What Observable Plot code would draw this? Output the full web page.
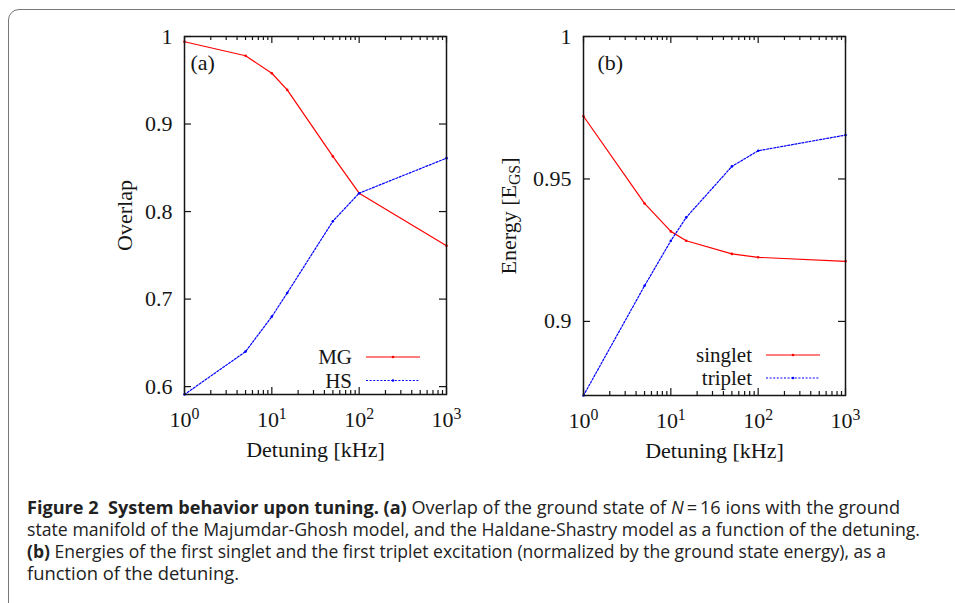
<!DOCTYPE html>
<html><head><meta charset="utf-8">
<script src="https://cdn.jsdelivr.net/npm/d3@7"></script>
<script src="https://cdn.jsdelivr.net/npm/@observablehq/plot@0.6"></script>
<style>
html,body{margin:0;padding:0;background:#fff}
body{width:955px;height:603px;overflow:hidden;position:relative}
#frame{position:absolute;left:8px;top:9px;width:1000px;height:700px;border:1.6px solid #777;border-top-left-radius:11px;box-sizing:border-box}
#a{position:absolute;left:0;top:0}
#b{position:absolute;left:400px;top:0}
#cap{position:absolute;left:27px;top:496px;font-family:"Open Sans","Noto Sans",sans-serif;font-size:18px;line-height:22px;color:#222}
#cap .ln{display:block;white-space:nowrap;height:22px}
#cap .ln span.t{display:inline-block;transform-origin:0 50%}
</style>
</head><body>
<div id="frame"></div>
<div id="a"></div>
<div id="b"></div>
<div id="cap">
<div class="ln"><span class="t" data-w="873"><b>Figure 2&nbsp; System behavior upon tuning.</b> <b>(a)</b> Overlap of the ground state of <i>N</i>&thinsp;=&thinsp;16 ions with the ground</span></div>
<div class="ln"><span class="t" data-w="893">state manifold of the Majumdar-Ghosh model, and the Haldane-Shastry model as a function of the detuning.</span></div>
<div class="ln"><span class="t" data-w="859"><b>(b)</b> Energies of the first singlet and the first triplet excitation (normalized by the ground state energy), as a</span></div>
<div class="ln"><span class="t" data-w="212">function of the detuning.</span></div>
</div>
<script>
// ---- data ----
const detuning = [1, 5, 10, 15, 50, 100, 1000];
const overlapMG = [0.994, 0.978, 0.958, 0.939, 0.863, 0.821, 0.761];
const overlapHS = [0.591, 0.640, 0.680, 0.707, 0.789, 0.821, 0.861];
const energySinglet = [0.972, 0.9414, 0.9316, 0.9283, 0.9237, 0.9225, 0.9211];
const energyTriplet = [0.874, 0.9125, 0.9283, 0.9365, 0.9544, 0.9599, 0.9654];
const xMajor = [1, 10, 100, 1000];
const xMinor = [2,3,4,5,6,7,8,9,20,30,40,50,60,70,80,90,200,300,400,500,600,700,800,900];
const yTicksA = [0.6, 0.7, 0.8, 0.9, 1];
const yLabelsA = ["0.6", "0.7", "0.8", "0.9", "1"];
const yTicksB = [0.9, 0.95, 1];
const yLabelsB = ["0.9", "0.95", "1"];
const seriesA = ["MG", "HS"];
const seriesB = ["singlet", "triplet"];
const colors = ["#ff0000", "#0000ff"];
const dashes = [null, "2,1.6"];

function panel(el, cfg) {
  const W = 470, H = 470;
  const ml = cfg.ml, mr = cfg.mr, mt = 36, mb = cfg.mb;
  const pw = W - ml - mr, ph = H - mt - mb;
  const rows = [];
  cfg.series.forEach((s, i) => cfg.values[i].forEach((v, j) => rows.push({s, i, x: detuning[j], y: v})));
  const ink = "#151515";
  const fs = 22;
  const marks = [
    Plot.tickX(xMajor, {x: d => d, insetTop: ph - 7, stroke: ink, strokeWidth: 1.2}),
    Plot.tickX(xMajor, {x: d => d, insetBottom: ph - 7, stroke: ink, strokeWidth: 1.2}),
    Plot.tickX(xMinor, {x: d => d, insetTop: ph - 4, stroke: ink, strokeWidth: 1.2}),
    Plot.tickX(xMinor, {x: d => d, insetBottom: ph - 4, stroke: ink, strokeWidth: 1.2}),
    Plot.tickY(cfg.yTicks, {y: d => d, insetRight: pw - 7, stroke: ink, strokeWidth: 1.2}),
    Plot.tickY(cfg.yTicks, {y: d => d, insetLeft: pw - 7, stroke: ink, strokeWidth: 1.2}),
  ];
  cfg.series.forEach((s, i) => {
    const data = rows.filter(r => r.i === i);
    marks.push(Plot.line(data, {x: "x", y: "y", stroke: colors[i], strokeWidth: 1.2, strokeDasharray: dashes[i]}));
    marks.push(Plot.dot(data, {x: "x", y: "y", r: 1.3, fill: colors[i], stroke: "none"}));
  });
  marks.push(
    Plot.frame({stroke: ink, strokeWidth: 1.5}),
    Plot.text(xMajor, {x: d => d, frameAnchor: "bottom", dy: 25, lineAnchor: "middle", fontSize: fs, text: d => `10^${Math.round(Math.log10(d))}`, fill: ink}),
    Plot.text(cfg.yTicks, {y: d => d, frameAnchor: "left", dx: -12, textAnchor: "end", lineAnchor: "middle", fontSize: fs, text: (d, k) => cfg.yLabels[k], fill: ink}),
    Plot.text([cfg.xlabel], {frameAnchor: "bottom", dy: 55, lineAnchor: "middle", textAnchor: "middle", fontSize: fs, fill: ink}),
    Plot.text([cfg.ylabel], {frameAnchor: "left", dx: cfg.ylabelDx, rotate: -90, textAnchor: "middle", lineAnchor: "middle", fontSize: fs, fill: ink}),
    Plot.text([cfg.tag], {frameAnchor: "top-left", dx: cfg.tagDx, dy: 26, textAnchor: "start", lineAnchor: "middle", fontSize: fs, fill: ink})
  );
  const svg = Plot.plot({
    width: W, height: H,
    marginLeft: ml, marginRight: mr, marginTop: mt, marginBottom: mb,
    x: {type: "log", domain: [1, 1000], axis: null},
    y: {domain: cfg.yDomain, axis: null},
    style: {fontFamily: "'Liberation Serif', 'Times New Roman', serif", fontSize: "22px", background: "transparent", overflow: "visible"},
    marks
  });
  // superscripts / subscripts as real text
  d3.select(svg).selectAll("text").each(function () {
    const t = this.textContent;
    let m = t.match(/^10\^(\d)$/);
    if (m) {
      this.textContent = "";
      d3.select(this).append("tspan").text("10");
      d3.select(this).append("tspan").attr("dy", "-0.45em").attr("font-size", "0.72em").text(m[1]);
      return;
    }
    m = t.match(/^(.*)_\{(.*)\}(.*)$/);
    if (m) {
      this.textContent = "";
      d3.select(this).append("tspan").text(m[1]);
      d3.select(this).append("tspan").attr("dy", "0.25em").attr("font-size", "0.72em").text(m[2]);
      d3.select(this).append("tspan").attr("dy", "-0.18em").text(m[3]);
    }
  });
  // key
  const g = d3.select(svg).append("g").attr("font-family", "'Liberation Serif', 'Times New Roman', serif").attr("font-size", 21).attr("fill", ink);
  cfg.series.forEach((s, i) => {
    const yy = cfg.keyY[i];
    g.append("text").attr("x", 352).attr("y", yy).attr("dy", "0.34em").attr("text-anchor", "end").text(s);
    g.append("line").attr("x1", 366).attr("x2", 420).attr("y1", yy).attr("y2", yy)
      .attr("stroke", colors[i]).attr("stroke-width", 1.2).attr("stroke-dasharray", dashes[i]);
    g.append("circle").attr("cx", 393).attr("cy", yy).attr("r", 1.3).attr("fill", colors[i]);
  });
  document.getElementById(el).appendChild(svg);
}

panel("a", {
  ml: 184, mr: 24, mb: 76,
  series: seriesA, values: [overlapMG, overlapHS],
  yDomain: [0.591, 1], yTicks: yTicksA, yLabels: yLabelsA,
  xlabel: "Detuning [kHz]", ylabel: "Overlap", ylabelDx: -60,
  tag: "(a)", tagDx: 6, keyY: [357, 380.5]
});
panel("b", {
  ml: 183, mr: 25, mb: 75,
  series: seriesB, values: [energySinglet, energyTriplet],
  yDomain: [0.874, 1], yTicks: yTicksB, yLabels: yLabelsB,
  xlabel: "Detuning [kHz]", ylabel: "Energy [E_{GS}]", ylabelDx: -75,
  tag: "(b)", tagDx: 14, keyY: [355, 378]
});

// fit caption lines to their measured widths
document.querySelectorAll("#cap span.t").forEach(sp => {
  const w = sp.getBoundingClientRect().width;
  const target = +sp.dataset.w;
  sp.style.transform = `scaleX(${target / w})`;
});
</script>
</body></html>
